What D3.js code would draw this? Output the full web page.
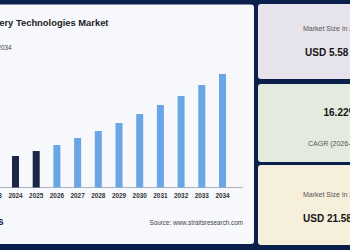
<!DOCTYPE html>
<html>
<head>
<meta charset="utf-8">
<script src="https://cdn.jsdelivr.net/npm/d3@7"></script>
<style>
  html, body { margin: 0; padding: 0; background: #0b1f4d; }
  svg { display: block; font-family: "Liberation Sans", Arial, Helvetica, sans-serif; }
</style>
</head>
<body>
<svg id="chart" width="350" height="250"></svg>
<script>
// ---- data ----
const years = ["2023", "2024", "2025", "2026", "2027", "2028", "2029", "2030", "2031", "2032", "2033", "2034"];
const values = [5.2, 5.99, 6.94, 8.08, 9.41, 10.74, 12.26, 13.97, 15.69, 17.40, 19.49, 21.58];
const historicalYears = ["2023", "2024", "2025"];
const titleText = "Drug Delivery Technologies Market";
const subtitleText = "Market Size, 2024-2034";
const sourceText = "Source: www.straitsresearch.com";
const logoText = "straits";
const cardLabels = ["Market Size in 2025", "CAGR (2026-2034)", "Market Size in 2034"];
const cardValues = ["USD 5.58 Billion", "16.22%", "USD 21.58 Billion"];

const svg = d3.select("#chart");

// frame background
svg.append("rect").attr("x", 0).attr("y", 0).attr("width", 350).attr("height", 250).attr("fill", "#0b1f4d");

// left chart panel
svg.append("rect").attr("x", -10).attr("y", 4.5).attr("width", 264).attr("height", 239.5)
  .attr("rx", 3).attr("fill", "#f6f8fc");

// right cards
const cards = [
  { y: 4, h: 75, fill: "#e7e3ec" },
  { y: 84, h: 78, fill: "#e3ebdf" },
  { y: 165, h: 80, fill: "#f6efdb" }
];
cards.forEach(c => {
  svg.append("rect").attr("x", 258).attr("y", c.y).attr("width", 110).attr("height", c.h)
    .attr("rx", 3).attr("fill", c.fill);
});

// card texts
svg.append("text").attr("x", 303).attr("y", 31).attr("font-size", 7).attr("fill", "#555").text(cardLabels[0]);
svg.append("text").attr("x", 305).attr("y", 56).attr("font-size", 10).attr("font-weight", "bold").attr("fill", "#151515").text(cardValues[0]);
svg.append("text").attr("x", 323.5).attr("y", 116).attr("font-size", 10).attr("font-weight", "bold").attr("fill", "#151515").text(cardValues[1]);
svg.append("text").attr("x", 308).attr("y", 146).attr("font-size", 7).attr("fill", "#555").text(cardLabels[1]);
svg.append("text").attr("x", 303).attr("y", 197).attr("font-size", 7).attr("fill", "#555").text(cardLabels[2]);
svg.append("text").attr("x", 303).attr("y", 222).attr("font-size", 10).attr("font-weight", "bold").attr("fill", "#151515").text(cardValues[2]);

// title & subtitle
svg.append("text").attr("x", 108.5).attr("y", 26).attr("text-anchor", "end")
  .attr("font-size", 9.4).attr("font-weight", "bold").attr("fill", "#1c1c1c").text(titleText);
svg.append("text").attr("x", 11.5).attr("y", 49.5).attr("text-anchor", "end")
  .attr("font-size", 6.3).attr("fill", "#444").text(subtitleText);

// scales
const x = d3.scaleBand().domain(years).range([-15.55, 232.85]).paddingInner(0.662).paddingOuter(0.331);
const y = d3.scaleLinear().domain([0, 21.58]).range([187.5, 74]);

// axis
const axis = d3.axisBottom(x).tickSize(0).tickPadding(5.5);
const gAxis = svg.append("g").attr("transform", "translate(0,187.5)").call(axis);
gAxis.select(".domain").remove();
gAxis.append("line").attr("x1", -20).attr("x2", 243).attr("y1", 0).attr("y2", 0)
  .attr("stroke", "#9aa0aa").attr("stroke-width", 0.8);
gAxis.selectAll(".tick text").attr("font-size", 6.4).attr("font-weight", 600)
  .attr("fill", "#333").attr("font-family", "'Liberation Sans', Arial, sans-serif");

// bars
svg.append("g").selectAll("rect").data(years).join("rect")
  .attr("x", d => x(d))
  .attr("width", x.bandwidth())
  .attr("y", (d, i) => y(values[i]))
  .attr("height", (d, i) => y(0) - y(values[i]))
  .attr("fill", d => historicalYears.includes(d) ? "#1a2747" : "#6aa6e6");

// source & logo
svg.append("text").attr("x", 243).attr("y", 225).attr("text-anchor", "end")
  .attr("font-size", 6.3).attr("fill", "#444").text(sourceText);
svg.append("text").attr("x", 3.5).attr("y", 225).attr("text-anchor", "end")
  .attr("font-size", 10).attr("font-weight", "bold").attr("fill", "#14244d").text(logoText);
</script>
</body>
</html>
